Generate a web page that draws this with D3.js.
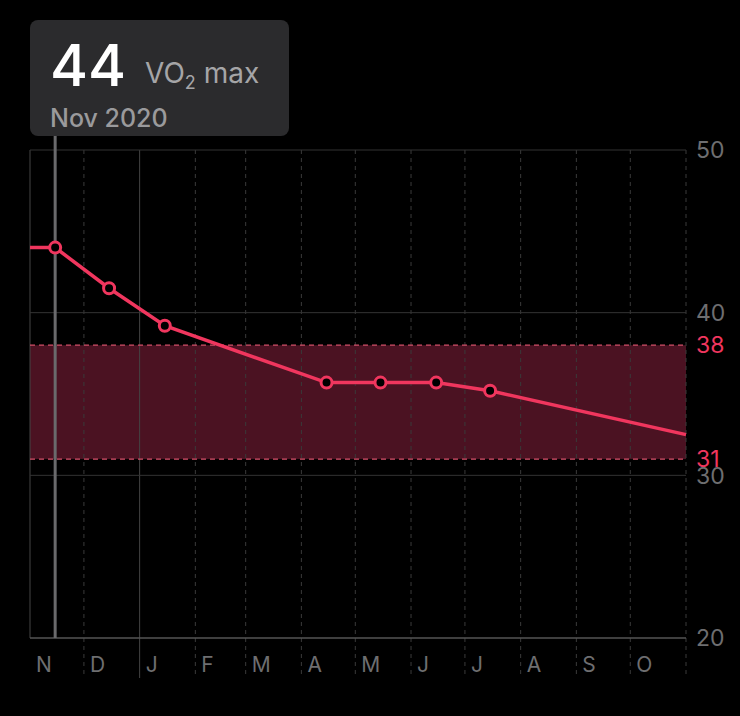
<!DOCTYPE html>
<html lang="en">
<head>
<meta charset="UTF-8">
<script src="https://d3js.org/d3.v7.min.js"></script>
<style>
  body { margin: 0; background: #000; }
</style>
</head>
<body>
<div id="container"></div>
<script>
// data
var dates = ["2020-11-01", "2020-11-15", "2020-12-15", "2021-01-15", "2021-04-15", "2021-05-15", "2021-06-15", "2021-07-15", "2021-11-01"];
var values = [44, 44, 41.5, 39.2, 35.7, 35.7, 35.7, 35.2, 32.5];
var marked = [false, true, true, true, true, true, true, true, false];
var monthLabels = ["N", "D", "J", "F", "M", "A", "M", "J", "J", "A", "S", "O"];
var yTicks = [50, 40, 30, 20];
var rangeLow = 31, rangeHigh = 38;

var width = 740, height = 716;
var plotLeft = 30, plotRight = 686, plotTop = 150, plotBottom = 638;
var pink = "#f0365e";

var svg = d3.select("#container").append("svg")
    .attr("width", width).attr("height", height)
    .style("font-family", "Inter, 'Open Sans', sans-serif");

var x = d3.scaleUtc()
    .domain([new Date("2020-11-01"), new Date("2021-11-01")])
    .range([plotLeft, plotRight]);
var y = d3.scaleLinear().domain([20, 50]).range([plotBottom, plotTop]);

var months = d3.utcMonth.range(new Date("2020-11-01"), new Date("2021-11-02"));
var isSolid = d => d.getUTCMonth() === 0 || +d === +months[0];

// band
svg.append("rect")
    .attr("x", plotLeft).attr("width", plotRight - plotLeft)
    .attr("y", y(rangeHigh)).attr("height", y(rangeLow) - y(rangeHigh))
    .attr("fill", "#4b1222");

// vertical grid
svg.append("g").selectAll("line").data(months).join("line")
    .attr("x1", d => x(d)).attr("x2", d => x(d))
    .attr("y1", plotTop)
    .attr("y2", d => +d === +months[0] ? plotBottom : plotBottom + 40)
    .attr("stroke", d => isSolid(d) ? "#444" : "#3a3a3a")
    .attr("stroke-width", 1)
    .attr("stroke-dasharray", d => isSolid(d) ? null : "4,4");

// horizontal grid
svg.append("g").selectAll("line").data(yTicks).join("line")
    .attr("x1", plotLeft).attr("x2", plotRight)
    .attr("y1", d => y(d)).attr("y2", d => y(d))
    .attr("stroke", d => d === 20 ? "#555" : "#333").attr("stroke-width", d => d === 20 ? 1.5 : 1);

// range borders
svg.append("g").selectAll("line").data([rangeLow, rangeHigh]).join("line")
    .attr("x1", plotLeft).attr("x2", plotRight)
    .attr("y1", d => y(d)).attr("y2", d => y(d))
    .attr("stroke", "#d4506a").attr("stroke-width", 1.2).attr("stroke-dasharray", "5,4");

// y labels
svg.append("g").selectAll("text").data(yTicks).join("text")
    .attr("x", plotRight + 10).attr("y", d => y(d)).attr("dy", "0.36em")
    .attr("fill", "#6e6e70").attr("font-size", 23).text(d => d);
svg.append("g").selectAll("text").data([rangeLow, rangeHigh]).join("text")
    .attr("x", plotRight + 10).attr("y", d => y(d)).attr("dy", "0.36em")
    .attr("fill", pink).attr("font-size", 23).text(d => d);

// month labels
svg.append("g").selectAll("text").data(months.slice(0, 12)).join("text")
    .attr("x", d => x(d) + 6).attr("y", 672)
    .attr("fill", "#6e6e70").attr("font-size", 21)
    .text((d, i) => monthLabels[i]);

// highlight line
svg.append("line")
    .attr("x1", x(new Date(dates[1]))).attr("x2", x(new Date(dates[1])))
    .attr("y1", 130).attr("y2", plotBottom)
    .attr("stroke", "#6a6a6c").attr("stroke-width", 3);

// tooltip
svg.append("rect").attr("x", 30).attr("y", 20).attr("width", 259).attr("height", 116)
    .attr("rx", 8).attr("fill", "#2b2b2d");
svg.append("text").attr("x", 50).attr("y", 86).attr("fill", "#fff")
    .attr("font-size", 58).attr("font-weight", 500).text(values[1]);
var t = svg.append("text").attr("x", 145).attr("y", 83).attr("fill", "#a5a5a7").attr("font-size", 28);
t.append("tspan").text("VO");
t.append("tspan").attr("font-size", 18).attr("dy", 6).text("2");
t.append("tspan").attr("dy", -6).text(" max");
svg.append("text").attr("x", 50).attr("y", 127).attr("fill", "#9a9a9c")
    .attr("font-size", 25).attr("font-weight", 500).text("Nov 2020");

// line
var pts = dates.map((d, i) => ({ d: new Date(d), v: values[i], m: marked[i] }));
svg.append("path").datum(pts)
    .attr("fill", "none").attr("stroke", pink).attr("stroke-width", 3.5)
    .attr("d", d3.line().x(d => x(d.d)).y(d => y(d.v)));
svg.append("g").selectAll("circle").data(pts.filter(d => d.m)).join("circle")
    .attr("cx", d => x(d.d)).attr("cy", d => y(d.v)).attr("r", 5.5)
    .attr("fill", "#000").attr("stroke", pink).attr("stroke-width", 3);
</script>
</body>
</html>
